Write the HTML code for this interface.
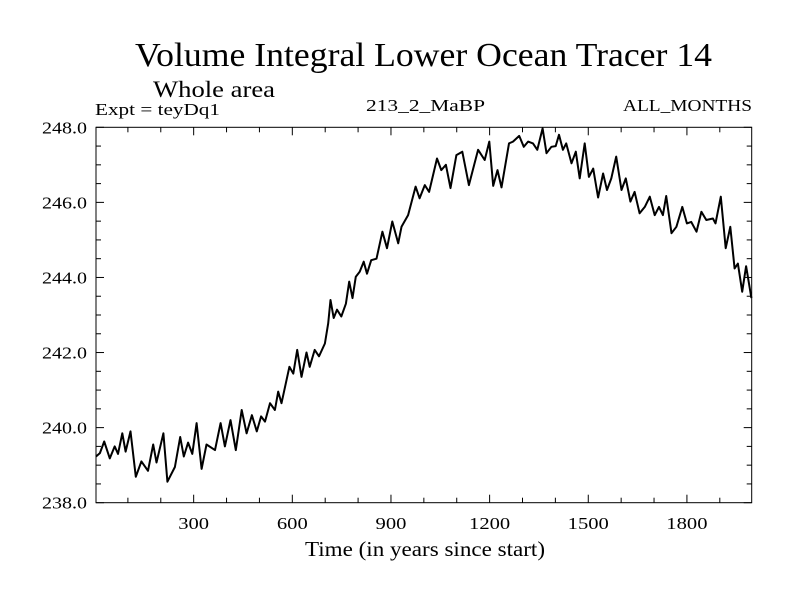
<!DOCTYPE html>
<html><head><meta charset="utf-8"><style>
body{margin:0;background:#fff}
text{font-family:"Liberation Serif",serif;fill:#000}
</style></head><body>
<svg id="chart" width="800" height="600" viewBox="0 0 800 600" xmlns="http://www.w3.org/2000/svg">
<text x="135" y="66" font-size="34" textLength="577" lengthAdjust="spacingAndGlyphs">Volume Integral Lower Ocean Tracer 14</text>
<text x="153" y="97" font-size="23" textLength="122" lengthAdjust="spacingAndGlyphs">Whole area</text>
<text x="95" y="115" font-size="17" textLength="125" lengthAdjust="spacingAndGlyphs">Expt = teyDq1</text>
<text x="366" y="111" font-size="17" textLength="119" lengthAdjust="spacingAndGlyphs">213_2_MaBP</text>
<text x="623" y="111" font-size="17" textLength="129" lengthAdjust="spacingAndGlyphs">ALL_MONTHS</text>
<text x="305" y="556" font-size="21" textLength="240" lengthAdjust="spacingAndGlyphs">Time (in years since start)</text>
<g id="axes"></g>
<path id="series" fill="none" stroke="#000" stroke-width="2" stroke-linejoin="round"/>
<rect x="96" y="127.3" width="655.7" height="375.4" fill="none" stroke="#000" stroke-width="1"/>
</svg>
<script>
const years=[3,15,28,45,60,70,83,93,108,124,141,161,177,187,208,220,243,259,270,283,296,309,324,339,365,382,395,412,428,446,461,477,492,505,517,532,547,557,567,591,603,615,628,643,653,668,681,699,709,716,726,736,749,763,773,783,793,805,817,827,840,856,874,888,904,922,932,952,975,987,1003,1016,1040,1053,1067,1081,1099,1117,1137,1149,1165,1185,1199,1211,1224,1236,1259,1271,1290,1304,1317,1332,1345,1361,1373,1388,1401,1411,1423,1433,1449,1462,1474,1489,1502,1515,1530,1545,1557,1570,1585,1601,1614,1628,1641,1656,1672,1687,1702,1715,1727,1737,1753,1768,1786,1800,1813,1829,1844,1859,1879,1887,1903,1918,1932,1945,1955,1968,1980,1996];
const values=[239.23,239.32,239.63,239.18,239.5,239.3,239.85,239.36,239.9,238.69,239.1,238.85,239.55,239.07,239.85,238.56,238.95,239.75,239.23,239.6,239.3,240.12,238.9,239.55,239.4,240.12,239.5,240.2,239.4,240.47,239.85,240.33,239.9,240.3,240.16,240.65,240.47,240.96,240.65,241.62,241.44,242.07,241.35,242.0,241.62,242.07,241.9,242.24,242.78,243.4,242.92,243.14,242.96,243.3,243.89,243.45,244.02,244.15,244.42,244.1,244.46,244.5,245.22,244.78,245.49,244.91,245.35,245.66,246.42,246.11,246.46,246.28,247.17,246.86,247.0,246.38,247.26,247.35,246.46,246.86,247.4,247.13,247.62,246.44,246.86,246.4,247.57,247.62,247.77,247.48,247.62,247.57,247.4,247.97,247.31,247.48,247.5,247.8,247.4,247.57,247.04,247.35,246.64,247.57,246.68,246.9,246.13,246.77,246.33,246.64,247.22,246.33,246.64,246.02,246.28,245.71,245.88,246.15,245.66,245.88,245.66,246.17,245.18,245.35,245.88,245.44,245.48,245.22,245.75,245.53,245.57,245.44,246.15,244.78,245.35,244.24,244.37,243.62,244.3,243.45];
const xTicks=[300,600,900,1200,1500,1800];
const yTicks=[238,240,242,244,246,248];
const xDomain=[3,1997], yDomain=[238,248];
const L=96,R=751.7,T=127.3,B=502.7;
const sx=v=>L+(v-xDomain[0])/(xDomain[1]-xDomain[0])*(R-L);
const sy=v=>B-(v-yDomain[0])/(yDomain[1]-yDomain[0])*(B-T);
const NS="http://www.w3.org/2000/svg";
const axes=document.getElementById('axes');
function ln(x1,y1,x2,y2){const l=document.createElementNS(NS,'line');l.setAttribute('x1',x1);l.setAttribute('y1',y1);l.setAttribute('x2',x2);l.setAttribute('y2',y2);l.setAttribute('stroke','#000');


axes.appendChild(l);}
function tx(x,y,s,a,w){const t=document.createElementNS(NS,'text');t.setAttribute('x',x);t.setAttribute('y',y);t.setAttribute('font-size','17');t.setAttribute('text-anchor',a);t.setAttribute('textLength',w);t.setAttribute('lengthAdjust','spacingAndGlyphs');t.textContent=s;


axes.appendChild(t);}
for(let v=100;v<2000;v+=100){const x=sx(v),len=(v%300===0)?8:5;ln(x,B,x,B-len);ln(x,T,x,T+len);}
for(let v=238;v<=248;v+=0.5){const y=sy(v),len=(Math.abs(v%2)<1e-9)?8:5;ln(L,y,L+len,y);ln(R,y,R-len,y);}
xTicks.forEach(v=>tx(sx(v),529,String(v),'middle',String(v).length*10.3));
yTicks.forEach(v=>tx(87,sy(v)+6,v.toFixed(1),'end',45));
document.getElementById('series').setAttribute('d',years.map((y,i)=>(i?'L':'M')+sx(y).toFixed(1)+','+sy(values[i]).toFixed(1)).join(''));
</script>
</body></html>
